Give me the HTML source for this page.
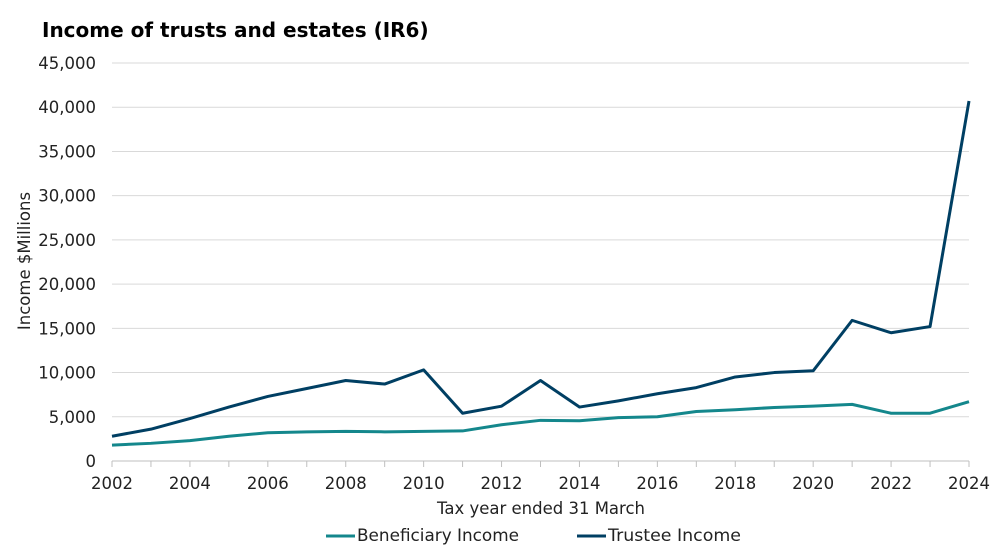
<!DOCTYPE html>
<html><head><meta charset="utf-8"><style>
body{margin:0;background:#fff;}
svg{display:block;font-family:"DejaVu Sans","Liberation Sans",sans-serif;}
</style></head><body>
<svg id="s" width="1000" height="558" xmlns="http://www.w3.org/2000/svg">
<text x="42" y="37" font-size="20" font-weight="bold" fill="#000">Income of trusts and estates (IR6)</text>
<g id="g"></g>
<text x="541" y="514" font-size="16.5" text-anchor="middle" fill="#222">Tax year ended 31 March</text>
<text transform="translate(30,261) rotate(-90)" font-size="16.5" text-anchor="middle" fill="#222">Income $Millions</text>
<line x1="326" y1="536" x2="355" y2="536" stroke="#14878c" stroke-width="3"/>
<text x="357" y="541" font-size="16.5" fill="#222" textLength="162" lengthAdjust="spacingAndGlyphs">Beneficiary Income</text>
<line x1="577" y1="536" x2="606" y2="536" stroke="#003f63" stroke-width="3"/>
<text x="608" y="541" font-size="16.5" fill="#222" textLength="133" lengthAdjust="spacingAndGlyphs">Trustee Income</text>
</svg>
<script>
var g=document.getElementById('g'),h='';
var X=function(y){return 112+(y-2002)*(857/22)};
var Y=function(v){return 461-v*398/45000};
for(var v=5000;v<=45000;v+=5000){h+='<line x1="112" x2="969" y1="'+Y(v)+'" y2="'+Y(v)+'" stroke="#d9d9d9"/>';}
for(var v=0;v<=45000;v+=5000){h+='<text x="96" y="'+(Y(v)+6)+'" font-size="16.5" text-anchor="end" fill="#222">'+(v==0?'0':v.toLocaleString('en-US'))+'</text>';}
h+='<line x1="112" x2="969" y1="461" y2="461" stroke="#bfbfbf"/>';
for(var y=2002;y<=2024;y++){h+='<line x1="'+X(y)+'" x2="'+X(y)+'" y1="461" y2="467" stroke="#bfbfbf"/>';
 if(y%2==0)h+='<text x="'+X(y)+'" y="489" font-size="16.5" text-anchor="middle" fill="#222">'+y+'</text>';}
var b=[1.8,2.0,2.3,2.8,3.2,3.3,3.35,3.3,3.35,3.4,4.1,4.6,4.55,4.9,5.0,5.6,5.8,6.05,6.2,6.4,5.4,5.4,6.7];
var t=[2.8,3.6,4.8,6.1,7.3,8.2,9.1,8.7,10.3,5.4,6.2,9.1,6.1,6.8,7.6,8.3,9.5,10.0,10.2,15.9,14.5,15.2,40.7];
function pl(d,c){return '<polyline fill="none" stroke="'+c+'" stroke-width="3" stroke-linejoin="round" points="'+d.map(function(v,i){return X(2002+i)+','+Y(v*1000)}).join(' ')+'"/>';}
h+=pl(b,'#14878c')+pl(t,'#003f63');
g.innerHTML=h;
</script>
</body></html>
